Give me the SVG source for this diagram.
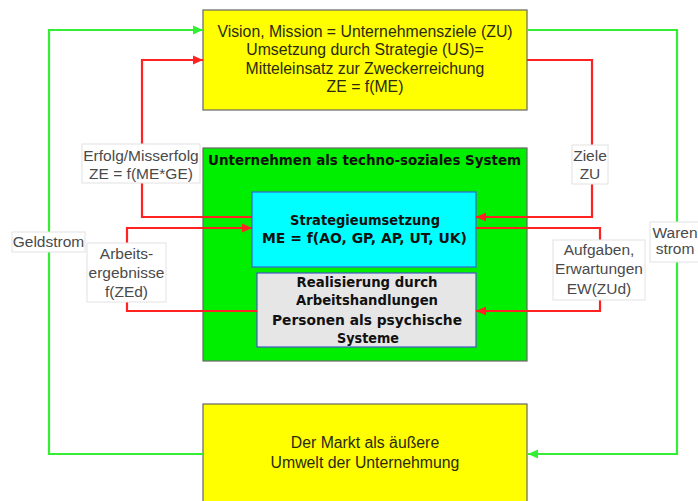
<svg xmlns="http://www.w3.org/2000/svg" width="698" height="501" viewBox="0 0 698 501">
<defs>
<style>
.box{stroke:#666;stroke-width:1.2}
.yel{fill:#ffff00}
.t{font-family:"Liberation Sans",Arial,sans-serif;font-size:15.8px;fill:#2a2a10;text-anchor:middle}
.b{font-family:"DejaVu Sans",Verdana,sans-serif;font-weight:bold;font-size:13.5px;fill:#111;text-anchor:middle}
.lbl rect{fill:#fff;stroke:#e2e2e2;stroke-width:1}
.lbl text{font-family:"Liberation Sans",Arial,sans-serif;font-size:15.5px;fill:#4a4a4a;text-anchor:middle}
.red{fill:none;stroke:#ff2222;stroke-width:2.2;marker-end:url(#ar)}
.grn{fill:none;stroke:#33ee33;stroke-width:2.2;marker-end:url(#ag)}
</style>
<marker id="ar" markerUnits="userSpaceOnUse" markerWidth="11" markerHeight="10" refX="10" refY="5" orient="auto"><path d="M0,0.5 L10,5 L0,9.5 z" fill="#ff2222"/></marker>
<marker id="ag" markerUnits="userSpaceOnUse" markerWidth="11" markerHeight="10" refX="10" refY="5" orient="auto"><path d="M0,0.5 L10,5 L0,9.5 z" fill="#33ee33"/></marker>
</defs>
<rect width="698" height="501" fill="#fff"/>

<g id="ziele">
<rect class="box yel" x="203" y="10" width="324" height="100"/>
<text class="t" x="365" y="37">Vision, Mission = Unternehmensziele (ZU)</text>
<text class="t" x="365" y="55">Umsetzung durch Strategie (US)=</text>
<text class="t" x="365" y="74">Mitteleinsatz zur Zweckerreichung</text>
<text class="t" x="365" y="92">ZE = f(ME)</text>
</g>

<g id="markt">
<rect class="box yel" x="203" y="404" width="324" height="110"/>
<text class="t" x="365" y="448">Der Markt als äußere</text>
<text class="t" x="365" y="468">Umwelt der Unternehmung</text>
</g>

<g id="unternehmen">
<rect class="box" fill="#00ee00" x="203" y="148" width="324" height="213"/>
<text class="b" x="364.5" y="165" textLength="313" lengthAdjust="spacingAndGlyphs">Unternehmen als techno-soziales System</text>
</g>

<g id="strategie">
<rect fill="#00ffff" stroke="#3366dd" stroke-width="1.2" x="252" y="192" width="224" height="75"/>
<text class="b" x="365" y="225" textLength="150" lengthAdjust="spacingAndGlyphs">Strategieumsetzung</text>
<text class="b" x="364.5" y="243" textLength="205" lengthAdjust="spacingAndGlyphs">ME = f(AO, GP, AP, UT, UK)</text>
</g>

<g id="realisierung">
<rect fill="#e6e6e6" stroke="#4455cc" stroke-width="1.2" x="257" y="273" width="219" height="74"/>
<text class="b" x="367" y="287" textLength="141" lengthAdjust="spacingAndGlyphs">Realisierung durch</text>
<text class="b" x="367" y="305" textLength="142" lengthAdjust="spacingAndGlyphs">Arbeitshandlungen</text>
<text class="b" x="367" y="325" textLength="190" lengthAdjust="spacingAndGlyphs">Personen als psychische</text>
<text class="b" x="368" y="343" textLength="62" lengthAdjust="spacingAndGlyphs">Systeme</text>
</g>

<g id="connectors">
<path class="grn" d="M203,454 H49 V30 H203"/>
<path class="grn" d="M527,30 H677 V454 H528"/>
<path class="red" d="M252,217 H142 V60 H203"/>
<path class="red" d="M527,60 H592 V217 H476"/>
<path class="red" d="M476,228 H600 V311 H476"/>
<path class="red" d="M257,311 H127 V228 H252"/>
<g class="lbl">
<rect x="82" y="144" width="118" height="39"/>
<text x="141" y="160.5">Erfolg/Misserfolg</text>
<text x="141" y="178.5">ZE = f(ME*GE)</text>
<rect x="12" y="232" width="73" height="20"/>
<text x="48.5" y="247">Geldstrom</text>
<rect x="87" y="243" width="79" height="59"/>
<text x="126.5" y="258.5">Arbeits-</text>
<text x="126.5" y="277.5">ergebnisse</text>
<text x="126.5" y="296.5">f(ZEd)</text>
<rect x="572" y="145" width="36" height="39"/>
<text x="590" y="160.5">Ziele</text>
<text x="590" y="178.5">ZU</text>
<rect x="553" y="240" width="92" height="60"/>
<text x="599" y="254.5">Aufgaben,</text>
<text x="599" y="273.5">Erwartungen</text>
<text x="599" y="293.5">EW(ZUd)</text>
<rect x="650" y="222" width="52" height="40"/>
<text x="675" y="237.5">Waren</text>
<text x="675" y="254">strom</text>
</g>
</g>
</svg>
